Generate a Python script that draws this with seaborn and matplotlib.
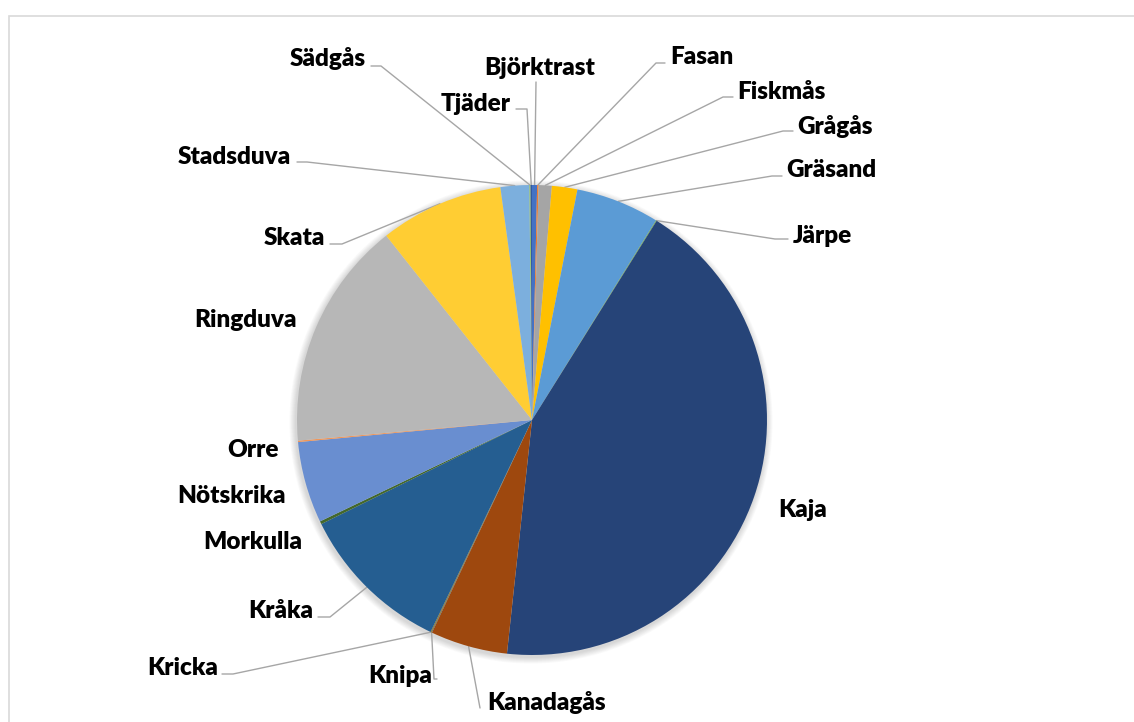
import numpy as np
import matplotlib
matplotlib.use("Agg")
import matplotlib.pyplot as plt
from matplotlib.patches import Rectangle, Circle
import seaborn as sns

# ---- data (share of total, %) ----
species = ["Björktrast", "Fasan", "Fiskmås", "Grågås", "Gräsand", "Järpe", "Kaja",
           "Kanadagås", "Knipa", "Kricka", "Kråka", "Morkulla", "Nötskrika", "Orre",
           "Ringduva", "Skata", "Stadsduva", "Sädgås", "Tjäder"]
shares = [0.35, 0.1, 0.9, 1.75, 5.75, 0.05, 42.8,
          5.3, 0.05, 0.05, 10.6, 0.2, 5.6, 0.1,
          15.75, 8.5, 1.97, 0.08, 0.1]

colors = ["#4472C4", "#ED7D31", "#A5A5A5", "#FFC000", "#5B9BD5", "#70AD47", "#264478",
          "#9E480E", "#636363", "#997300", "#255E91", "#43682B", "#698ED0", "#F1975A",
          "#B7B7B7", "#FFCD33", "#7CAFDD", "#8CC168", "#335AA1"]

sns.set_theme(style="white")
plt.rcParams["font.family"] = ["Lato", "DejaVu Sans"]

W, H = 1134, 722
fig = plt.figure(figsize=(W / 100, H / 100), dpi=100)
ax = fig.add_axes([0, 0, 1, 1])

def py(y):
    return H - y

cx, cy, R = 532, py(420), 235

# soft shadow
for i in range(8):
    ax.add_patch(Circle((cx - 1, cy - 2), R + 1 + i * 0.8, facecolor="#000000",
                        alpha=0.018, edgecolor="none", zorder=0))

wedges, _ = ax.pie(shares, colors=colors, startangle=90, counterclock=False,
                   center=(cx, cy), radius=R, wedgeprops=dict(linewidth=0))
for w in wedges:
    w.set_zorder(2)

ax.set_xlim(0, W)
ax.set_ylim(0, H)
ax.set_aspect("equal")
ax.axis("off")

# chart border
ax.add_patch(Rectangle((9, -5), W, py(16) + 5, facecolor="none",
                       edgecolor="#D9D9D9", linewidth=1.2, zorder=0))

# label layout (pixel coords): x, y_center, ha, leader points near label
layout = {
    "Björktrast": (540, 68, "center", [(536, 82)]),
    "Fasan": (670, 57, "left", [(665, 63), (656, 63)]),
    "Fiskmås": (737, 92, "left", [(733, 97), (723, 97)]),
    "Grågås": (797, 127, "left", [(793, 131), (783, 131)]),
    "Gräsand": (786, 170, "left", [(782, 176), (772, 176)]),
    "Järpe": (793, 236, "left", [(788, 239), (775, 239)]),
    "Kaja": (778, 510, "left", None),
    "Kanadagås": (487, 702, "left", [(480, 708)]),
    "Knipa": (432, 676, "right", [(437, 679), (434, 679)]),
    "Kricka": (218, 668, "right", [(222, 674), (233, 674)]),
    "Kråka": (313, 611, "right", [(318, 617), (330, 617)]),
    "Morkulla": (302, 542, "right", None),
    "Nötskrika": (286, 496, "right", None),
    "Orre": (279, 450, "right", None),
    "Ringduva": (297, 320, "right", None),
    "Skata": (325, 238, "right", [(330, 244), (342, 244)]),
    "Stadsduva": (291, 157, "right", [(297, 162), (307, 162)]),
    "Sädgås": (366, 59, "right", [(371, 66), (381, 66)]),
    "Tjäder": (511, 104, "right", [(516, 109), (527, 109)]),
}

for name, w in zip(species, wedges):
    x, y, ha, lead = layout[name]
    ax.text(x, py(y), name, ha=ha, va="center", fontsize=17.5,
            fontweight="heavy", color="#000000", zorder=5)
    if lead:
        mid = np.deg2rad((w.theta1 + w.theta2) / 2)
        ax_, ay_ = cx + R * np.cos(mid), cy + R * np.sin(mid)
        xs = [p[0] for p in lead] + [ax_]
        ys = [py(p[1]) for p in lead] + [ay_]
        ax.plot(xs, ys, color="#A6A6A6", linewidth=1, zorder=1)

fig.savefig("out.png", dpi=100, facecolor="white")
